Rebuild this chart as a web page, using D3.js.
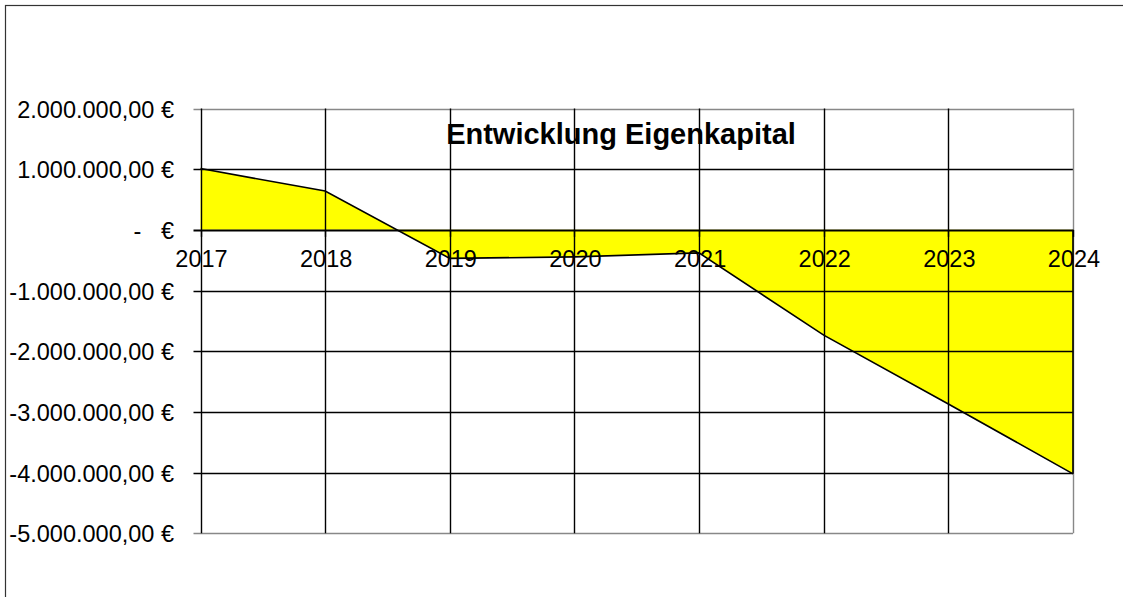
<!DOCTYPE html>
<html>
<head>
<meta charset="utf-8">
<script src="https://cdn.jsdelivr.net/npm/d3@7"></script>
<style>
  body { margin: 0; background: #fff; }
  text { font-family: Arial, "Liberation Sans", sans-serif; white-space: pre; }
</style>
</head>
<body>
<div id="chart"></div>
<script>
// data
var years = ["2017", "2018", "2019", "2020", "2021", "2022", "2023", "2024"];
var equity = [1010000, 640000, -470000, -445000, -380000, -1735000, -2870000, -4020000];
var yTicks = [2000000, 1000000, 0, -1000000, -2000000, -3000000, -4000000, -5000000];

var width = 1123, height = 597;
var margin = {top: 108.5, right: 50, bottom: 64, left: 200.5};

var svg = d3.select("#chart").append("svg")
    .attr("width", width)
    .attr("height", height);

// outer frame
svg.append("rect")
  .attr("x", 5.5).attr("y", 5.5)
  .attr("width", width + 10).attr("height", height + 10)
  .attr("fill", "none")
  .attr("stroke", "#333")
  .attr("stroke-width", 1.2);

var x = d3.scalePoint()
  .domain(years)
  .range([margin.left, 1073]);

var y = d3.scaleLinear()
  .domain([-5000000, 2000000])
  .range([533.3, margin.top]);

var fmt = function(v) {
  if (v === 0) return "-   €";
  var s = d3.format(",.2f")(Math.abs(v)).replace(/,/g, "#").replace(".", ",").replace(/#/g, ".");
  return (v < 0 ? "-" : "") + s + " €";
};

// area fill
var area = d3.area()
  .x(function(d, i) { return x(years[i]); })
  .y0(y(0))
  .y1(function(d) { return y(d); });

svg.append("path")
  .datum(equity)
  .attr("d", area)
  .attr("fill", "#ffff00");

// horizontal grid
svg.append("g")
  .selectAll("line")
  .data(yTicks)
  .enter().append("line")
    .attr("x1", margin.left - 7)
    .attr("x2", 1073)
    .attr("y1", function(d) { return Math.round(y(d)) + 0.5; })
    .attr("y2", function(d) { return Math.round(y(d)) + 0.5; })
    .attr("stroke", function(d) { return (d === 2000000 || d === -5000000) ? "#888" : "#000"; })
    .attr("stroke-width", function(d) { return d === 0 ? 2 : 1.4; });

// vertical grid
svg.append("g")
  .selectAll("line")
  .data(years)
  .enter().append("line")
    .attr("x1", function(d) { return Math.round(x(d)) + 0.5; })
    .attr("x2", function(d) { return Math.round(x(d)) + 0.5; })
    .attr("y1", y(2000000))
    .attr("y2", y(-5000000))
    .attr("stroke", function(d) { return d === "2024" ? "#888" : "#000"; })
    .attr("stroke-width", 1.4);

// x tick marks at zero line
svg.append("g")
  .selectAll("line")
  .data(years)
  .enter().append("line")
    .attr("x1", function(d) { return Math.round(x(d)) + 0.5; })
    .attr("x2", function(d) { return Math.round(x(d)) + 0.5; })
    .attr("y1", y(0))
    .attr("y2", y(0) + 7)
    .attr("stroke", "#000")
    .attr("stroke-width", 1.4);

// line on top of area
var line = d3.line()
  .x(function(d, i) { return x(years[i]); })
  .y(function(d) { return y(d); });

svg.append("path")
  .datum(equity)
  .attr("d", line)
  .attr("fill", "none")
  .attr("stroke", "#000")
  .attr("stroke-width", 1.6);

// right edge of the area
svg.append("line")
  .attr("x1", x("2024")).attr("x2", x("2024"))
  .attr("y1", y(0)).attr("y2", y(equity[equity.length - 1]))
  .attr("stroke", "#000").attr("stroke-width", 1.6);

// y labels
svg.append("g")
  .selectAll("text")
  .data(yTicks)
  .enter().append("text")
    .attr("x", 174)
    .attr("y", function(d) { return y(d) + 9; })
    .attr("text-anchor", "end")
    .attr("font-size", "23.5px")
    .text(fmt);

// x labels
svg.append("g")
  .selectAll("text")
  .data(years)
  .enter().append("text")
    .attr("x", function(d) { return x(d) + 1; })
    .attr("y", y(0) + 37)
    .attr("text-anchor", "middle")
    .attr("font-size", "23.5px")
    .text(function(d) { return d; });

// title
svg.append("text")
  .attr("x", 621)
  .attr("y", 144)
  .attr("text-anchor", "middle")
  .attr("font-size", "29px")
  .attr("font-weight", "bold")
  .text("Entwicklung Eigenkapital");
</script>
</body>
</html>
